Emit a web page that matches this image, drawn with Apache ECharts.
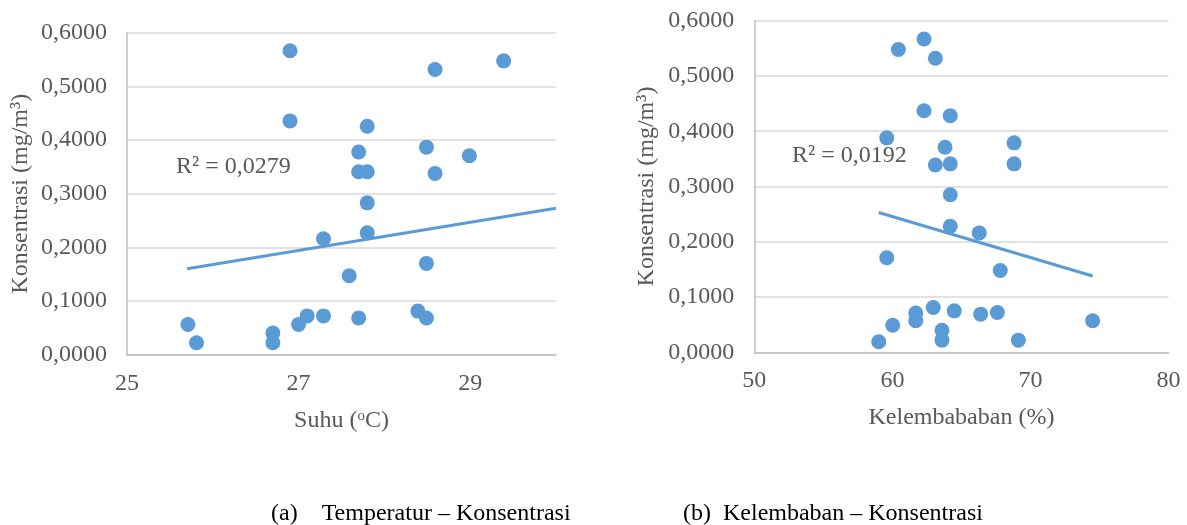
<!DOCTYPE html>
<html>
<head>
<meta charset="utf-8">
<script src="https://cdn.jsdelivr.net/npm/echarts@6/dist/echarts.min.js"></script>
<style>html,body{margin:0;padding:0;background:#fff;}#c{width:1187px;height:525px;}</style>
</head>
<body>
<div id="c"></div>
<script>
// Left chart: Suhu (°C) vs Konsentrasi
const suhuX = [26.90, 29.39, 28.59, 26.90, 27.80, 27.70, 28.49, 28.99, 27.70, 27.80, 28.59, 27.80, 27.29, 27.80, 27.59, 28.49, 27.10, 27.00, 27.29, 27.70, 28.39, 28.49, 25.71, 25.81, 26.70, 26.70];
const suhuY = [0.567, 0.548, 0.532, 0.436, 0.426, 0.378, 0.387, 0.371, 0.341, 0.341, 0.338, 0.283, 0.216, 0.227, 0.147, 0.170, 0.072, 0.056, 0.072, 0.068, 0.081, 0.068, 0.056, 0.022, 0.040, 0.022];
const suhuTrendX = [25.70, 30.0];
const suhuTrendY = [0.160, 0.273];
const suhuR2 = 'R² = 0,0279';

// Right chart: Kelembaban (%) vs Konsentrasi
const lembabX = [62.29, 60.43, 63.11, 62.29, 64.19, 59.59, 63.81, 68.81, 63.11, 64.19, 68.81, 64.19, 64.19, 66.29, 67.81, 59.59, 61.69, 61.69, 62.96, 64.48, 66.39, 67.60, 63.59, 63.59, 69.12, 74.50, 60.02, 59.01];
const lembabY = [0.567, 0.548, 0.532, 0.437, 0.428, 0.388, 0.371, 0.379, 0.339, 0.341, 0.341, 0.285, 0.228, 0.216, 0.148, 0.171, 0.071, 0.057, 0.081, 0.075, 0.069, 0.072, 0.040, 0.022, 0.022, 0.057, 0.049, 0.019];
const lembabTrendX = [59.01, 74.50];
const lembabTrendY = [0.253, 0.138];
const lembabR2 = 'R² = 0,0192';

const yTicks = {min: 0, max: 0.6, interval: 0.1};
const captionA = '(a)    Temperatur – Konsentrasi';
const captionB = '(b)  Kelembaban – Konsentrasi';

const FONT = '"Liberation Serif", "Times New Roman", serif';
const FS = 24;
const TXT = '#595959';
const BLUE = '#5B9BD5';
const zip = (xs, ys) => xs.map((x, i) => [x, ys[i]]);
const fmtY = v => v.toFixed(4).replace('.', ',');

const yAxisBase = (gi, gap) => ({
  gridIndex: gi, type: 'value', min: yTicks.min, max: yTicks.max, interval: yTicks.interval,
  name: 'Konsentrasi (mg/m³)', nameLocation: 'middle', nameGap: gap, nameRotate: 90,
  nameTextStyle: {fontFamily: FONT, fontSize: FS, color: TXT},
  axisLine: {show: true, lineStyle: {color: '#BFBFBF', width: 1.5}},
  axisTick: {show: false},
  axisLabel: {fontFamily: FONT, fontSize: FS, color: TXT, margin: 20, formatter: fmtY},
  splitLine: {show: true, lineStyle: {color: '#D9D9D9', width: 1.5}}
});

const option = {
  animation: false,
  backgroundColor: '#fff',
  grid: [
    {left: 127, right: 631, top: 33, bottom: 170.5, containLabel: false, outerBoundsMode: 'none'},
    {left: 754.3, right: 18.4, top: 20.7, bottom: 172.7, containLabel: false, outerBoundsMode: 'none'}
  ],
  xAxis: [
    {
      gridIndex: 0, type: 'value', min: 25, max: 30, interval: 1,
      name: 'Suhu ({s|o}C)', nameLocation: 'middle', nameGap: 54,
      nameTextStyle: {fontFamily: FONT, fontSize: FS, color: TXT,
        rich: {s: {fontFamily: FONT, fontSize: 15, color: TXT, verticalAlign: 'bottom', padding: [0, 0, 10, 0]}}},
      axisLine: {show: true, lineStyle: {color: '#BFBFBF', width: 1.5}},
      axisTick: {show: false},
      axisLabel: {fontFamily: FONT, fontSize: FS, color: TXT, margin: 17,
        formatter: v => (Math.round(v) % 2 === 1 && v < 30) ? String(v) : ''},
      splitLine: {show: false}
    },
    {
      gridIndex: 1, type: 'value', min: 50, max: 80, interval: 10,
      name: 'Kelembababan (%)', nameLocation: 'middle', nameGap: 53,
      nameTextStyle: {fontFamily: FONT, fontSize: FS, color: TXT},
      axisLine: {show: true, lineStyle: {color: '#BFBFBF', width: 1.5}},
      axisTick: {show: false},
      axisLabel: {fontFamily: FONT, fontSize: FS, color: TXT, margin: 16},
      splitLine: {show: false}
    }
  ],
  yAxis: [yAxisBase(0, 94), yAxisBase(1, 96)],
  series: [
    {type: 'line', xAxisIndex: 0, yAxisIndex: 0, data: zip(suhuTrendX, suhuTrendY), symbol: 'none',
      lineStyle: {color: BLUE, width: 3}, z: 1},
    {type: 'scatter', xAxisIndex: 0, yAxisIndex: 0, data: zip(suhuX, suhuY), symbolSize: 15,
      itemStyle: {color: BLUE, opacity: 1}, z: 2},
    {type: 'line', xAxisIndex: 1, yAxisIndex: 1, data: zip(lembabTrendX, lembabTrendY), symbol: 'none',
      lineStyle: {color: BLUE, width: 3}, z: 1},
    {type: 'scatter', xAxisIndex: 1, yAxisIndex: 1, data: zip(lembabX, lembabY), symbolSize: 15,
      itemStyle: {color: BLUE, opacity: 1}, z: 2}
  ],
  graphic: [
    {type: 'text', left: 176, top: 155, style: {text: suhuR2, font: FS + 'px ' + FONT, fill: TXT}},
    {type: 'text', left: 792, top: 144, style: {text: lembabR2, font: FS + 'px ' + FONT, fill: TXT}},
    {type: 'text', left: 271, top: 502, style: {text: captionA, font: FS + 'px ' + FONT, fill: '#000'}},
    {type: 'text', left: 683, top: 502, style: {text: captionB, font: FS + 'px ' + FONT, fill: '#000'}}
  ]
};
echarts.init(document.getElementById('c'), null, {renderer: 'canvas'}).setOption(option);
</script>
</body>
</html>
